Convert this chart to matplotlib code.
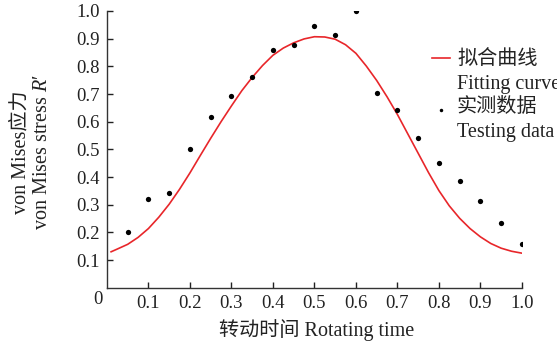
import matplotlib
matplotlib.use("Agg")
import matplotlib.pyplot as plt
from matplotlib.lines import Line2D

plt.rcParams['font.family'] = ['Liberation Serif', 'Noto Sans CJK SC', 'DejaVu Sans']
plt.rcParams['mathtext.fontset'] = 'custom'
plt.rcParams['mathtext.rm'] = 'Liberation Serif'
plt.rcParams['mathtext.it'] = 'Liberation Serif:italic'

# measured data (testing points)
time_pts = [0.05, 0.10, 0.15, 0.20, 0.25, 0.30, 0.35, 0.40, 0.45, 0.50,
            0.55, 0.60, 0.65, 0.70, 0.75, 0.80, 0.85, 0.90, 0.95, 1.00]
stress_pts = [0.200, 0.319, 0.344, 0.500, 0.617, 0.692, 0.763, 0.859, 0.876, 0.946,
              0.913, 0.999, 0.705, 0.644, 0.541, 0.450, 0.385, 0.313, 0.234, 0.159]

# fitting curve
curve_x = [0.01, 0.025, 0.05, 0.075, 0.10, 0.125, 0.15, 0.175, 0.20, 0.225,
           0.25, 0.275, 0.30, 0.325, 0.35, 0.375, 0.40, 0.425, 0.45, 0.475,
           0.50, 0.525, 0.55, 0.575, 0.60, 0.625, 0.65, 0.675, 0.70, 0.725,
           0.75, 0.775, 0.80, 0.825, 0.85, 0.875, 0.90, 0.925, 0.95, 0.975, 1.00]
curve_y = [0.130, 0.140, 0.157, 0.182, 0.214, 0.255, 0.302, 0.356, 0.415, 0.478,
           0.540, 0.600, 0.657, 0.712, 0.760, 0.803, 0.840, 0.866, 0.885, 0.899,
           0.907, 0.906, 0.898, 0.878, 0.847, 0.801, 0.749, 0.690, 0.626, 0.556,
           0.486, 0.416, 0.351, 0.296, 0.251, 0.214, 0.184, 0.160, 0.143, 0.132, 0.125]

ticks = [0.1, 0.2, 0.3, 0.4, 0.5, 0.6, 0.7, 0.8, 0.9, 1.0]
tick_labels = ['0.1', '0.2', '0.3', '0.4', '0.5', '0.6', '0.7', '0.8', '0.9', '1.0']

txt = '#222222'
fs = 14.5
fig = plt.figure(figsize=(5.57, 3.43), dpi=100)
ax = fig.add_axes([0.192, 0.161, 0.745, 0.807])

ax.plot(curve_x, curve_y, color='#e8262a', lw=1.2, zorder=2)
ax.plot(time_pts, stress_pts, 'o', color='black', ms=3.8, mec='none', zorder=3)

ax.set_xlim(0, 1.0)
ax.set_ylim(0, 1.0)
ax.set_xticks(ticks)
ax.set_xticklabels(tick_labels)
ax.set_yticks(ticks)
ax.set_yticklabels(tick_labels)
ax.tick_params(direction='in', length=4, width=1, labelsize=13.5, colors=txt, pad=5)
for s in ['top', 'right']:
    ax.spines[s].set_visible(False)
for s in ['left', 'bottom']:
    ax.spines[s].set_linewidth(1)
    ax.spines[s].set_color('#333333')

# origin label
fig.text(98 / 557, 1 - 299 / 343, '0', fontsize=13.5, color=txt, ha='center', va='center')

# axis labels
fig.text(317 / 557, 1 - 330 / 343, '转动时间 Rotating time', fontsize=fs, color=txt,
         ha='center', va='center')
fig.text(21 / 557, 1 - 152 / 343, 'von Mises应力', fontsize=fs, color=txt,
         rotation=90, ha='center', va='center')
fig.text(43 / 557, 1 - 152 / 343, "von Mises stress $R$′", fontsize=fs, color=txt,
         rotation=90, ha='center', va='center')

# legend
fig.add_artist(Line2D([432 / 557, 450 / 557], [1 - 58 / 343, 1 - 58 / 343],
                      color='#e8262a', lw=1.2))
fig.add_artist(Line2D([441 / 557], [1 - 110 / 343], marker='o', color='black',
                      ms=2.5, mec='none', ls='none'))
fig.text(457 / 557, 1 - 60 / 343, '拟合曲线', fontsize=fs, color=txt, va='center')
fig.text(457 / 557, 1 - 84 / 343, 'Fitting curve', fontsize=fs, color=txt, va='center')
fig.text(457 / 557, 1 - 108 / 343, '实测数据', fontsize=fs, color=txt, va='center')
fig.text(457 / 557, 1 - 132 / 343, 'Testing data', fontsize=fs, color=txt, va='center')

fig.savefig('out.png', dpi=100)
